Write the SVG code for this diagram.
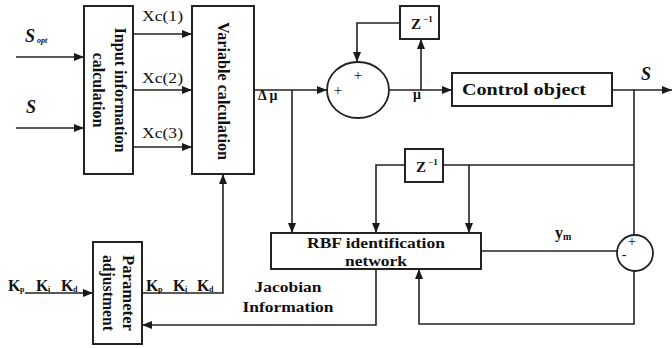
<svg xmlns="http://www.w3.org/2000/svg" width="672" height="348" viewBox="0 0 672 348">
<defs>
<marker id="ah" viewBox="0 0 10 8" refX="10" refY="4" markerWidth="10" markerHeight="8" markerUnits="userSpaceOnUse" orient="auto">
<path d="M0,0 L10,4 L0,8 Z" fill="#1a1a1a"/>
</marker>
<style>
.box{fill:#fff;stroke:#222;stroke-width:2}
.ln{fill:none;stroke:#222;stroke-width:1.6}
.ar{fill:none;stroke:#222;stroke-width:1.6;marker-end:url(#ah)}
.b{font-family:"Liberation Serif","Times New Roman",serif;font-weight:bold;fill:#111}
.r{font-family:"Liberation Serif","Times New Roman",serif;fill:#111}
.bi{font-family:"Liberation Serif","Times New Roman",serif;font-weight:bold;font-style:italic;fill:#111}
</style>
</defs>
<rect width="672" height="348" fill="#fff"/>

<g id="connectors">
<path class="ar" d="M16,57 H84"/>
<path class="ar" d="M16,128 H84"/>
<path class="ar" d="M133,34 H192"/>
<path class="ar" d="M133,90 H192"/>
<path class="ar" d="M133,147 H192"/>
<path class="ar" d="M254,90 H327"/>
<path class="ar" d="M292,90 V233"/>
<path class="ar" d="M400,23 H357 V62"/>
<path class="ar" d="M421,90 V39"/>
<path class="ar" d="M389,90 H452"/>
<path class="ar" d="M612,90 H672"/>
<path class="ln" d="M634,90 V235"/>
<path class="ln" d="M634,165 H443"/>
<path class="ar" d="M405,165 H376 V233"/>
<path class="ar" d="M469,165 V233"/>
<path class="ln" d="M481,251 H617"/>
<path class="ar" d="M634,271 V324 H419 V269"/>
<path class="ar" d="M376,269 V325 H142"/>
<path class="ar" d="M142,293 H223 V174"/>
<path class="ar" d="M25,293 H93"/>
</g>

<g id="input-info">
<rect class="box" x="84" y="6" width="49" height="168"/>
<text class="b" font-size="16" text-anchor="middle" transform="translate(120,90) rotate(90)" y="5" textLength="125" lengthAdjust="spacingAndGlyphs">Input information</text>
<text class="b" font-size="16" text-anchor="middle" transform="translate(98,90) rotate(90)" y="5">calculation</text>
</g>

<g id="variable-calc">
<rect class="box" x="192" y="6" width="62" height="168"/>
<text class="b" font-size="16" text-anchor="middle" transform="translate(223,91) rotate(90)" y="5" textLength="138" lengthAdjust="spacingAndGlyphs">Variable calculation</text>
</g>

<g id="param-adj">
<rect class="box" x="93" y="242" width="49" height="102"/>
<text class="b" font-size="16" text-anchor="middle" transform="translate(128,293) rotate(90)" y="5" textLength="76" lengthAdjust="spacingAndGlyphs">Parameter</text>
<text class="b" font-size="16" text-anchor="middle" transform="translate(108,293) rotate(90)" y="5" textLength="76" lengthAdjust="spacingAndGlyphs">adjustment</text>
</g>

<g id="sum1">
<ellipse cx="358" cy="90" rx="31" ry="28" fill="#fff" stroke="#222" stroke-width="1.8"/>
<text class="r" font-size="15" x="358" y="80" text-anchor="middle">+</text>
<text class="r" font-size="15" x="338" y="95" text-anchor="middle">+</text>
</g>

<g id="z1">
<rect class="box" x="400" y="6" width="39" height="33"/>
<text class="b" font-size="15" x="416" y="29" text-anchor="middle">Z</text>
<text class="b" font-size="9" x="423" y="22">−1</text>
</g>

<g id="control-object">
<rect class="box" x="452" y="73" width="160" height="33"/>
<text class="b" font-size="16" x="524" y="95" text-anchor="middle" textLength="124" lengthAdjust="spacingAndGlyphs">Control object</text>
</g>

<g id="z2">
<rect class="box" x="405" y="149" width="38" height="33"/>
<text class="b" font-size="15" x="421" y="172" text-anchor="middle">Z</text>
<text class="b" font-size="9" x="428" y="165">−1</text>
</g>

<g id="rbf">
<rect class="box" x="271" y="233" width="210" height="36"/>
<text class="b" font-size="15" x="376" y="248" text-anchor="middle" textLength="138" lengthAdjust="spacingAndGlyphs">RBF identification</text>
<text class="b" font-size="15" x="376" y="266" text-anchor="middle" textLength="62" lengthAdjust="spacingAndGlyphs">network</text>
</g>

<g id="sum2">
<circle cx="635" cy="253" r="18" fill="#fff" stroke="#222" stroke-width="1.8"/>
<text class="r" font-size="14" x="632" y="246" text-anchor="middle">+</text>
<text class="r" font-size="14" x="624" y="259" text-anchor="middle">-</text>
</g>

<g id="labels">
<text class="bi" font-size="18" x="25" y="42">S</text>
<text class="bi" font-size="8" x="37" y="43">opt</text>
<text class="bi" font-size="18" x="26" y="113">S</text>
<text class="bi" font-size="18" x="641" y="80">S</text>
<text class="r" font-size="15" x="142" y="21" textLength="41" lengthAdjust="spacingAndGlyphs">Xc(1)</text>
<text class="r" font-size="15" x="142" y="83" textLength="41" lengthAdjust="spacingAndGlyphs">Xc(2)</text>
<text class="r" font-size="15" x="142" y="138" textLength="41" lengthAdjust="spacingAndGlyphs">Xc(3)</text>
<text class="b" font-size="14" x="258" y="100">Δ μ</text>
<text class="b" font-size="14" x="413" y="99">μ</text>
<text class="b" font-size="16" x="555" y="238">y</text>
<text class="b" font-size="10" x="563" y="240">m</text>
<text class="b" font-size="15" x="288" y="292" text-anchor="middle" textLength="67" lengthAdjust="spacingAndGlyphs">Jacobian</text>
<text class="b" font-size="15" x="288" y="312" text-anchor="middle" textLength="91" lengthAdjust="spacingAndGlyphs">Information</text>
<text class="b" font-size="16" x="8" y="291">K</text><text class="b" font-size="8" x="20" y="292">p</text>
<text class="b" font-size="16" x="36" y="291">K</text><text class="b" font-size="8" x="48" y="292">i</text>
<text class="b" font-size="16" x="61" y="291">K</text><text class="b" font-size="8" x="73" y="292">d</text>
<text class="b" font-size="16" x="146" y="291">K</text><text class="b" font-size="8" x="158" y="292">p</text>
<text class="b" font-size="16" x="173" y="291">K</text><text class="b" font-size="8" x="185" y="292">i</text>
<text class="b" font-size="16" x="197" y="291">K</text><text class="b" font-size="8" x="209" y="292">d</text>
</g>
</svg>
